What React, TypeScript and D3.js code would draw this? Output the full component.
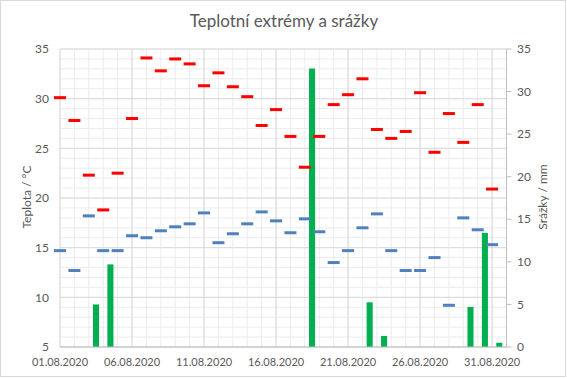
import React, { useEffect } from "react";
import * as d3 from "d3";

const days: number[] = d3.range(1, 32);
const maxTemp: number[] = [
  30.1, 27.8, 22.3, 18.8, 22.5, 28.0, 34.1, 32.8, 34.0, 33.5, 31.3,
  32.6, 31.2, 30.2, 27.3, 28.9, 26.2, 23.1, 26.2, 29.4, 30.4, 32.0,
  26.9, 26.0, 26.7, 30.6, 24.6, 28.5, 25.6, 29.4, 20.9,
];
const minTemp: number[] = [
  14.7, 12.7, 18.2, 14.7, 14.7, 16.2, 16.0, 16.7, 17.1, 17.4, 18.5,
  15.5, 16.4, 17.4, 18.6, 17.7, 16.5, 17.9, 16.6, 13.5, 14.7, 17.0,
  18.4, 14.7, 12.7, 12.7, 14.0, 9.2, 18.0, 16.8, 15.3,
];
const rain: number[] = [
  0, 0, 5.0, 9.7, 0, 0, 0, 0, 0, 0, 0,
  0, 0, 0, 0, 0, 0, 32.7, 0, 0, 0, 5.25,
  1.3, 0, 0, 0, 0, 0, 4.7, 13.4, 0.5,
];
const tempTicks: number[] = [5, 10, 15, 20, 25, 30, 35];
const rainTicks: number[] = [0, 5, 10, 15, 20, 25, 30, 35];
const labelDays: number[] = [1, 6, 11, 16, 21, 26, 31];

const W = 567;
const H = 378;
const L = 60;
const R = 506.5;
const T = 49;
const B = 347;
const FONT = "Lato, 'Open Sans', sans-serif";
const TXT = "#595959";

export default function App() {
  useEffect(() => {
    document.body.style.margin = "0";
  }, []);

  const date = (d: number) => new Date(2020, 7, d);
  const x = d3.scaleTime().domain([date(1), date(32)]).range([L, R]);
  const xb = d3
    .scaleBand<number>()
    .domain(days)
    .range([L, R])
    .paddingInner(0.58)
    .paddingOuter(0.29);
  const yT = d3.scaleLinear().domain([5, 35]).range([B, T]);
  const yR = d3.scaleLinear().domain([0, 35]).range([B, T]);
  const fmt = d3.timeFormat("%d.%m.%Y");

  const minorY = d3.range(5, 36, 1);
  const mw = 12;

  return (
    <svg
      width={W}
      height={H}
      style={{ position: "absolute", left: 0, top: 0, display: "block" }}
      fontFamily={FONT}
    >
      <rect x={0} y={0} width={W} height={H} fill="#ffffff" />
      <rect x={0.5} y={0.5} width={W - 2} height={H - 2} fill="none" stroke="#d9d9d9" />
      <text x={284} y={27} textAnchor="middle" fontSize={17} fill={TXT}>
        Teplotní extrémy a srážky
      </text>

      {/* minor grid */}
      {minorY.map((v) => (
        <line key={"my" + v} x1={L} x2={R} y1={yT(v)} y2={yT(v)} stroke="#ececec" />
      ))}
      {days.map((d) => (
        <line key={"mx" + d} x1={x(date(d))} x2={x(date(d))} y1={T} y2={B} stroke="#ececec" />
      ))}
      {/* major grid */}
      {tempTicks.map((v) => (
        <line key={"gy" + v} x1={L} x2={R} y1={yT(v)} y2={yT(v)} stroke="#d9d9d9" />
      ))}
      {labelDays.map((d) => (
        <line key={"gx" + d} x1={x(date(d))} x2={x(date(d))} y1={T} y2={B} stroke="#d9d9d9" />
      ))}

      {/* rain bars */}
      {days.map((d, i) =>
        rain[i] > 0 ? (
          <rect
            key={"b" + d}
            x={xb(d)}
            width={xb.bandwidth()}
            y={yR(rain[i])}
            height={yR(0) - yR(rain[i])}
            fill="#00b050"
          />
        ) : null
      )}

      {/* axes lines */}
      <line x1={L} x2={R} y1={B} y2={B} stroke="#bfbfbf" />
      <line x1={R} x2={R} y1={T} y2={B} stroke="#bfbfbf" />
      {rainTicks.map((v) => (
        <line key={"rt" + v} x1={R} x2={R + 5} y1={yR(v)} y2={yR(v)} stroke="#bfbfbf" />
      ))}

      {/* markers */}
      {days.map((d, i) => (
        <rect
          key={"mx" + d}
          x={x(date(d)) - mw / 2}
          y={yT(maxTemp[i]) - 1.5}
          width={mw}
          height={3}
          fill="#ff0000"
        />
      ))}
      {days.map((d, i) => (
        <rect
          key={"mn" + d}
          x={x(date(d)) - mw / 2}
          y={yT(minTemp[i]) - 1.5}
          width={mw}
          height={3}
          fill="#4f81bd"
        />
      ))}

      {/* left tick labels */}
      {tempTicks.map((v) => (
        <text key={"lt" + v} x={49} y={yT(v)} dy="0.35em" textAnchor="end" fontSize={12} fill={TXT}>
          {v}
        </text>
      ))}
      {/* right tick labels */}
      {rainTicks.map((v) => (
        <text key={"rl" + v} x={517} y={yR(v)} dy="0.35em" textAnchor="start" fontSize={12} fill={TXT}>
          {v}
        </text>
      ))}
      {/* x labels */}
      {labelDays.map((d) => (
        <text key={"xl" + d} x={x(date(d))} y={366} textAnchor="middle" fontSize={11} fill={TXT}>
          {fmt(date(d))}
        </text>
      ))}

      <text
        transform="translate(31,197) rotate(-90)"
        textAnchor="middle"
        fontSize={12}
        fill={TXT}
      >
        Teplota / °C
      </text>
      <text
        transform="translate(547,197) rotate(-90)"
        textAnchor="middle"
        fontSize={12}
        fill={TXT}
      >
        Srážky / mm
      </text>
    </svg>
  );
}
